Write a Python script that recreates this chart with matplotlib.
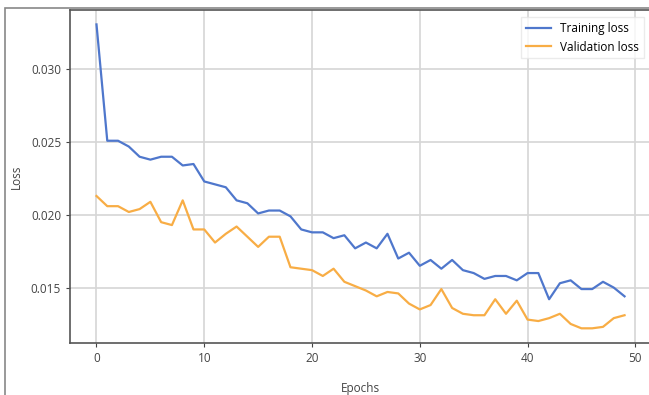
import matplotlib
matplotlib.use("Agg")
import matplotlib.pyplot as plt
from matplotlib.patches import Rectangle

epochs = list(range(50))
train_loss = [0.0331, 0.0251, 0.0251, 0.0247, 0.0240, 0.0238, 0.0240, 0.0240, 0.0234, 0.0235,
              0.0223, 0.0221, 0.0219, 0.0210, 0.0208, 0.0201, 0.0203, 0.0203, 0.0199, 0.0190,
              0.0188, 0.0188, 0.0184, 0.0186, 0.0177, 0.0181, 0.0177, 0.0187, 0.0170, 0.0174,
              0.0165, 0.0169, 0.0163, 0.0169, 0.0162, 0.0160, 0.0156, 0.0158, 0.0158, 0.0155,
              0.0160, 0.0160, 0.0142, 0.0153, 0.0155, 0.0149, 0.0149, 0.0154, 0.0150, 0.0144]
val_loss = [0.0213, 0.0206, 0.0206, 0.0202, 0.0204, 0.0209, 0.0195, 0.0193, 0.0210, 0.0190,
            0.0190, 0.0181, 0.0187, 0.0192, 0.0185, 0.0178, 0.0185, 0.0185, 0.0164, 0.0163,
            0.0162, 0.0158, 0.0163, 0.0154, 0.0151, 0.0148, 0.0144, 0.0147, 0.0146, 0.0139,
            0.0135, 0.0138, 0.0149, 0.0136, 0.0132, 0.0131, 0.0131, 0.0142, 0.0132, 0.0141,
            0.0128, 0.0127, 0.0129, 0.0132, 0.0125, 0.0122, 0.0122, 0.0123, 0.0129, 0.0131]

plt.rcParams["font.family"] = ["Open Sans", "DejaVu Sans"]

fig = plt.figure(figsize=(6.49, 3.95), dpi=100)
ax = fig.add_axes([0.108, 0.132, 0.895, 0.843])

ax.plot(epochs, train_loss, color="#4f77cc", lw=1.6, label="Training loss")
ax.plot(epochs, val_loss, color="#f8ad45", lw=1.6, label="Validation loss")

ax.set_xlim(-2.45, 51.45)
ax.set_ylim(0.0112, 0.0341)
ax.set_xticks([0, 10, 20, 30, 40, 50])
ax.set_yticks([0.015, 0.020, 0.025, 0.030])
ax.set_yticklabels(["0.015", "0.020", "0.025", "0.030"])
ax.tick_params(labelsize=8.5, colors="#444444", length=3)
ax.grid(True, color="#d6d6d6", lw=1.2)
ax.set_axisbelow(True)
for s in ax.spines.values():
    s.set_color("#555555")
    s.set_linewidth(1.2)

ax.set_xlabel("Epochs", fontsize=8.5, color="#444444", labelpad=12)
ax.set_ylabel("Loss", fontsize=8.5, color="#444444", labelpad=6)

leg = ax.legend(loc="upper right", fontsize=8.5, frameon=True, fancybox=False,
                borderpad=0.4, handlelength=2.1, borderaxespad=0.6)
leg.get_frame().set_edgecolor("#e6e6e6")

# grey frame of the original screenshot
fig.patches.append(Rectangle((5 / 649, -0.01), 1.02, 1 - 8 / 395 + 0.01,
                             transform=fig.transFigure, fill=False,
                             edgecolor="#888888", lw=1.2))

fig.savefig("out.png", dpi=100)
